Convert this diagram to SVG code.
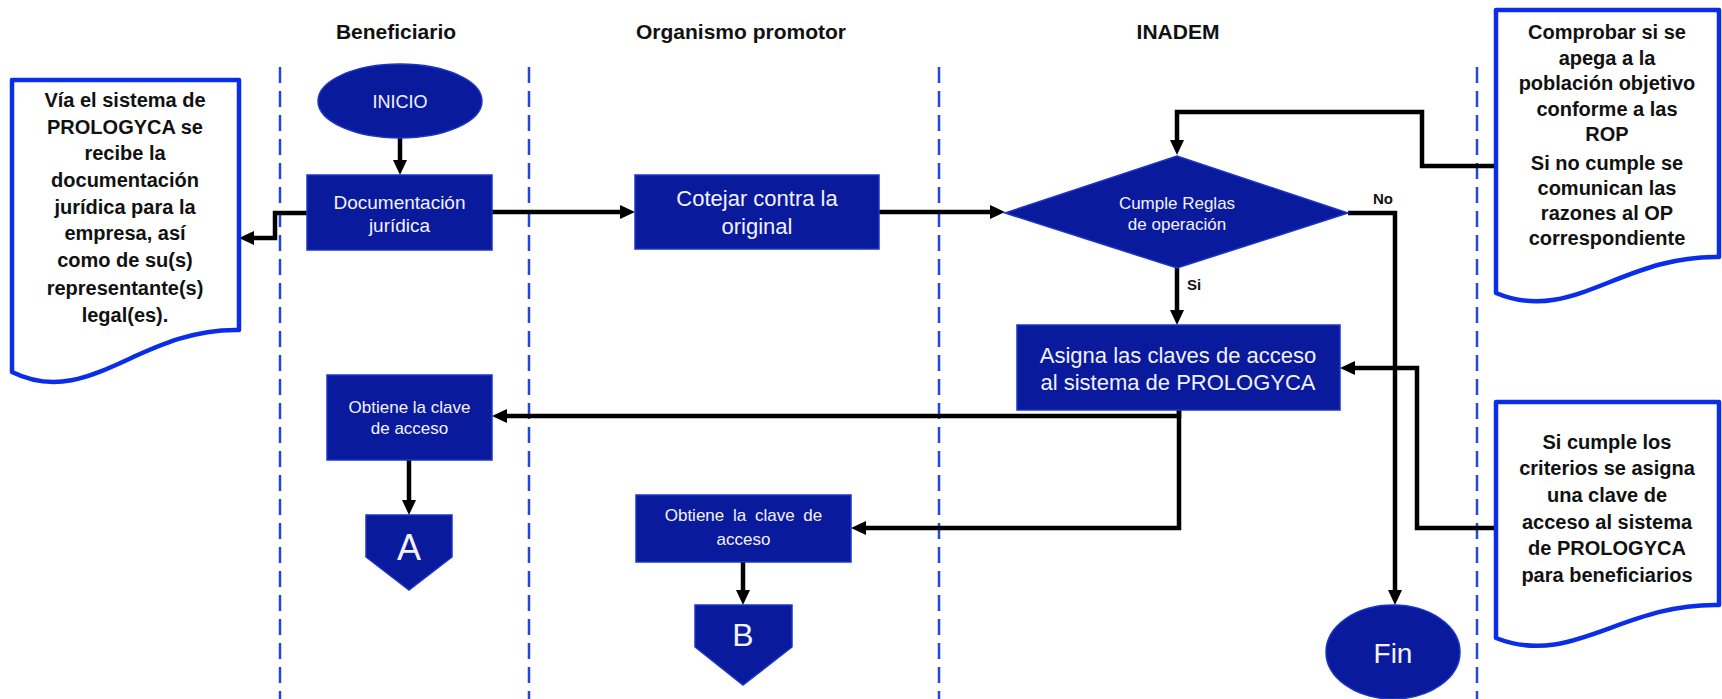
<svg xmlns="http://www.w3.org/2000/svg" width="1722" height="699" viewBox="0 0 1722 699">
<style>
.lane{stroke:#2446dc;stroke-width:2.5;stroke-dasharray:16 8;fill:none}
.title{font-family:"Liberation Sans",Arial,sans-serif;font-size:21px;font-weight:bold;fill:#111;text-anchor:middle}
.node{fill:#0a1a9c;stroke:#1a35c8;stroke-width:1.5}
.ntext{font-family:"Liberation Sans",Arial,sans-serif;fill:#f2f2ff;text-anchor:middle}
.doc{fill:#fff;stroke:#0a2ee8;stroke-width:4.5;stroke-linejoin:round}
.dtext{font-family:"Liberation Sans",Arial,sans-serif;font-size:20px;font-weight:bold;fill:#111;text-anchor:middle}
.edge{fill:none;stroke:#000;stroke-width:4.5;marker-end:url(#arr)}
.lbl{font-family:"Liberation Sans",Arial,sans-serif;font-size:15px;font-weight:bold;fill:#111}
</style>
<defs>
<marker id="arr" markerUnits="userSpaceOnUse" markerWidth="16" markerHeight="16" viewBox="0 0 16 16" refX="9" refY="8" orient="auto">
<path d="M0,1 L15,8 L0,15 z" fill="#000"/>
</marker>
</defs>
<rect width="1722" height="699" fill="#fff"/>

<g id="lanes">
<line class="lane" x1="280" y1="67" x2="280" y2="699"/>
<line class="lane" x1="529" y1="67" x2="529" y2="699"/>
<line class="lane" x1="939" y1="67" x2="939" y2="699"/>
<line class="lane" x1="1477" y1="67" x2="1477" y2="699"/>
</g>

<g id="titles">
<text class="title" x="396" y="39">Beneficiario</text>
<text class="title" x="741" y="39">Organismo promotor</text>
<text class="title" x="1178" y="39">INADEM</text>
</g>

<g id="connectors">
<path class="edge" d="M400,138 V169"/>
<path class="edge" d="M307,213 H275 V238 H245"/>
<path class="edge" d="M492,212 H629"/>
<path class="edge" d="M879,212 H999"/>
<path class="edge" d="M1496,166 H1422 V112 H1177 V149"/>
<path class="edge" d="M1177,268 V319"/>
<path class="edge" d="M1348,213 H1395 V599"/>
<path class="edge" d="M1496,528 H1417 V368 H1346"/>
<path class="edge" d="M1179,409 V416 H498"/>
<path class="edge" d="M1179,409 V528 H857"/>
<path class="edge" d="M409,460 V509"/>
<path class="edge" d="M743,562 V599"/>
<text class="lbl" x="1373" y="204">No</text>
<text class="lbl" x="1187" y="290">Si</text>
</g>

<g id="doc-left">
<path class="doc" d="M12,80 H239 V330 C139,328 89,410 12,372 Z"/>
<text class="dtext" x="125" y="107">Vía el sistema de</text>
<text class="dtext" x="125" y="134">PROLOGYCA se</text>
<text class="dtext" x="125" y="160">recibe la</text>
<text class="dtext" x="125" y="187">documentación</text>
<text class="dtext" x="125" y="214">jurídica para la</text>
<text class="dtext" x="125" y="240">empresa, así</text>
<text class="dtext" x="125" y="267">como de su(s)</text>
<text class="dtext" x="125" y="295">representante(s)</text>
<text class="dtext" x="125" y="322">legal(es).</text>
</g>

<g id="inicio">
<ellipse class="node" cx="400" cy="101" rx="82" ry="37"/>
<text class="ntext" x="400" y="108" font-size="18">INICIO</text>
</g>

<g id="doc-juridica">
<rect class="node" x="307" y="175" width="185" height="75"/>
<text class="ntext" x="399.5" y="209" font-size="19">Documentación</text>
<text class="ntext" x="399.5" y="232" font-size="19">jurídica</text>
</g>

<g id="cotejar">
<rect class="node" x="635" y="175" width="244" height="74"/>
<text class="ntext" x="757" y="206" font-size="22">Cotejar contra la</text>
<text class="ntext" x="757" y="234" font-size="22">original</text>
</g>

<g id="decision">
<polygon class="node" points="1005,213 1177,156 1348,213 1177,268"/>
<text class="ntext" x="1177" y="209" font-size="17">Cumple Reglas</text>
<text class="ntext" x="1177" y="230" font-size="17">de operación</text>
</g>

<g id="doc-top-right">
<path class="doc" d="M1496,10 H1719 V257 C1621,255 1572,325 1496,293 Z"/>
<text class="dtext" x="1607" y="39">Comprobar si se</text>
<text class="dtext" x="1607" y="65">apega a la</text>
<text class="dtext" x="1607" y="90">población objetivo</text>
<text class="dtext" x="1607" y="116">conforme a las</text>
<text class="dtext" x="1607" y="141">ROP</text>
<text class="dtext" x="1607" y="170">Si no cumple se</text>
<text class="dtext" x="1607" y="195">comunican las</text>
<text class="dtext" x="1607" y="220">razones al OP</text>
<text class="dtext" x="1607" y="245">correspondiente</text>
</g>

<g id="asigna">
<rect class="node" x="1017" y="325" width="323" height="85"/>
<text class="ntext" x="1178" y="363" font-size="22">Asigna las claves de acceso</text>
<text class="ntext" x="1178" y="390" font-size="22">al sistema de PROLOGYCA</text>
</g>

<g id="doc-bottom-right">
<path class="doc" d="M1496,402 H1719 V605 C1621,603 1572,668 1496,638 Z"/>
<text class="dtext" x="1607" y="449">Si cumple los</text>
<text class="dtext" x="1607" y="475">criterios se asigna</text>
<text class="dtext" x="1607" y="502">una clave de</text>
<text class="dtext" x="1607" y="529">acceso al sistema</text>
<text class="dtext" x="1607" y="555">de PROLOGYCA</text>
<text class="dtext" x="1607" y="582">para beneficiarios</text>
</g>

<g id="obtiene-a">
<rect class="node" x="327" y="375" width="165" height="85"/>
<text class="ntext" x="409.5" y="413" font-size="17">Obtiene la clave</text>
<text class="ntext" x="409.5" y="434" font-size="17">de acceso</text>
</g>

<g id="conector-a">
<polygon class="node" points="366,515 452,515 452,557 409,590 366,557"/>
<text class="ntext" x="409" y="560" font-size="36">A</text>
</g>

<g id="obtiene-b">
<rect class="node" x="636" y="495" width="215" height="67"/>
<text class="ntext" x="743.5" y="521" font-size="17" word-spacing="4">Obtiene la clave de</text>
<text class="ntext" x="743.5" y="545" font-size="17">acceso</text>
</g>

<g id="conector-b">
<polygon class="node" points="695,605 792,605 792,647 743,685 695,647"/>
<text class="ntext" x="743" y="646" font-size="32">B</text>
</g>

<g id="fin">
<ellipse class="node" cx="1393" cy="652" rx="67" ry="47"/>
<text class="ntext" x="1393" y="663" font-size="28">Fin</text>
</g>
</svg>
